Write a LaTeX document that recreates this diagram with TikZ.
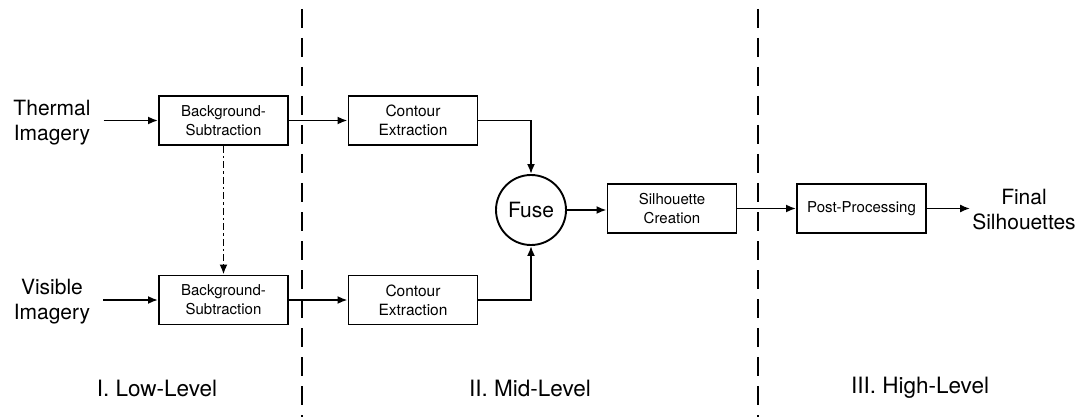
\documentclass[tikz,border=0pt]{standalone}
\usepackage{fontspec}
\setmainfont{TeX Gyre Heros}
\usetikzlibrary{arrows.meta,shapes.geometric}
\tikzset{
  procbox/.style={draw, line width=1.9pt, minimum width=129pt, minimum height=49pt, align=center, inner sep=1pt, font=\fontsize{15}{19}\selectfont},
  bigtext/.style={align=center, inner sep=1pt, font=\fontsize{21}{25}\selectfont},
  leveltext/.style={inner sep=1pt, font=\fontsize{22.5}{26}\selectfont},
  flow/.style={line width=1.9pt, -{Latex[length=10pt,width=8pt]}},
  dashdotflow/.style={line width=1.9pt, dash pattern=on 7pt off 3pt on 2.5pt off 3pt, -{Latex[length=10pt,width=8pt]}},
  divider/.style={line width=1.5pt, dash pattern=on 19pt off 10pt}
}
\begin{document}
\begin{tikzpicture}[x=1pt,y=-1pt]
\useasboundingbox (0,0) rectangle (1077,417);
% dividers
\coordinate (d1top) at (302,9);
\coordinate (d1bot) at (302,417);
\coordinate (d2top) at (758,9);
\coordinate (d2bot) at (758,417);
\draw[divider] (d1top) -- (d1bot);
\draw[divider] (d2top) -- (d2bot);
% nodes
\node[bigtext] (tin) at (52,123) {Thermal\\Imagery};
\node[bigtext] (vin) at (52,302) {Visible\\Imagery};
\node[procbox] (bs1) at (223.5,120.5) {Background-\\Subtraction};
\node[procbox] (bs2) at (223.5,300) {Background-\\Subtraction};
\node[procbox, font=\fontsize{15.5}{19}\selectfont] (ce1) at (413,120.5) {Contour\\Extraction};
\node[procbox, font=\fontsize{15.5}{19}\selectfont] (ce2) at (413,300) {Contour\\Extraction};
\node[draw, circle, line width=1.9pt, minimum size=70pt, inner sep=0pt, font=\fontsize{21}{24}\selectfont] (fuse) at (531,210) {Fuse};
\node[procbox] (sc) at (672,208.5) {Silhouette\\Creation};
\node[procbox] (pp) at (861.5,208.5) {Post-Processing};
\node[bigtext, inner sep=2pt] (fin) at (1024,210) {Final\\Silhouettes};
\node[leveltext] (l1) at (157,388) {I. Low-Level};
\node[leveltext] (l2) at (530,388) {II. Mid-Level};
\node[leveltext] (l3) at (920,388) {III. High-Level};
% connectors
\draw[flow] (tin.east |- bs1.west) ++(12,0) -- (bs1.west);
\draw[flow] (vin.east |- bs2.west) ++(12,0) -- (bs2.west);
\draw[flow] (bs1.east) -- (ce1.west);
\draw[flow] (bs2.east) -- (ce2.west);
\draw[dashdotflow] (bs1.south) -- (bs2.north);
\draw[flow] (ce1.east) -| (fuse.north);
\draw[flow] (ce2.east) -| (fuse.south);
\draw[flow] (fuse.east) -- (fuse.east -| sc.west);
\draw[flow] (sc.east) -- (pp.west);
\draw[flow] (pp.east) -- (pp.east -| fin.west);
\end{tikzpicture}
\end{document}
